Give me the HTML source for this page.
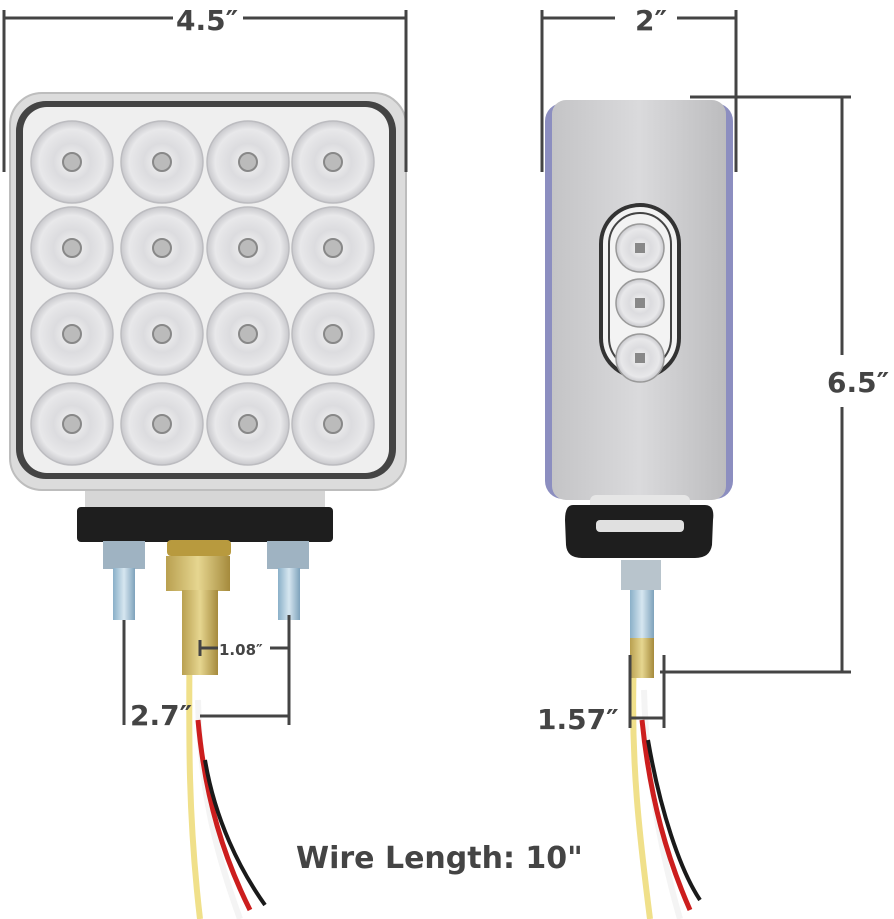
<!DOCTYPE html>
<html><head><meta charset="utf-8"><style>
html,body{margin:0;padding:0;background:#fff}
svg{display:block}
text{font-family:"DejaVu Sans","Liberation Sans",sans-serif;font-weight:bold;fill:#444}
</style></head><body>
<svg width="894" height="919" viewBox="0 0 894 919" xmlns="http://www.w3.org/2000/svg">
<defs>
<radialGradient id="led" cx="50%" cy="50%" r="50%">
<stop offset="0" stop-color="#f6f6f6"/><stop offset="0.45" stop-color="#dcdcdf"/><stop offset="0.8" stop-color="#e8e8ea"/><stop offset="1" stop-color="#c8c8cc"/>
</radialGradient>
<linearGradient id="side" x1="0" x2="1" y1="0" y2="0">
<stop offset="0" stop-color="#c4c4c6"/><stop offset="0.5" stop-color="#dadadc"/><stop offset="1" stop-color="#bcbcbe"/>
</linearGradient>
<linearGradient id="brass" x1="0" x2="1"><stop offset="0" stop-color="#b9a050"/><stop offset="0.5" stop-color="#e6d690"/><stop offset="1" stop-color="#a58a3c"/></linearGradient>
<linearGradient id="zinc" x1="0" x2="1"><stop offset="0" stop-color="#8ab0c8"/><stop offset="0.5" stop-color="#d6e6f0"/><stop offset="1" stop-color="#7ea2bb"/></linearGradient>
</defs>

<!-- FRONT LIGHT -->
<path d="M190 560 C190 700 185 790 200 919" stroke="#f0e08a" stroke-width="6" fill="none"/>
<path d="M198 700 C200 790 215 850 240 919" stroke="#f4f4f4" stroke-width="6" fill="none"/>
<path d="M198 720 C205 800 225 860 250 910" stroke="#cc1e1e" stroke-width="5" fill="none"/>
<path d="M205 760 C215 820 240 870 265 905" stroke="#1a1a1a" stroke-width="4" fill="none"/>

<rect x="85" y="488" width="240" height="22" fill="#d6d6d6"/>
<rect x="10" y="93" width="396" height="397" rx="32" fill="#dcdcdc" stroke="#bdbdbd" stroke-width="2"/>
<rect x="16" y="101" width="380" height="378" rx="30" fill="#444"/>
<rect x="23" y="107" width="366" height="366" rx="24" fill="#efefef"/>
<g>
<g fill="url(#led)" stroke="#bcbcc0" stroke-width="1.5">
<circle cx="72" cy="162" r="41"/><circle cx="162" cy="162" r="41"/><circle cx="248" cy="162" r="41"/><circle cx="333" cy="162" r="41"/>
<circle cx="72" cy="248" r="41"/><circle cx="162" cy="248" r="41"/><circle cx="248" cy="248" r="41"/><circle cx="333" cy="248" r="41"/>
<circle cx="72" cy="334" r="41"/><circle cx="162" cy="334" r="41"/><circle cx="248" cy="334" r="41"/><circle cx="333" cy="334" r="41"/>
<circle cx="72" cy="424" r="41"/><circle cx="162" cy="424" r="41"/><circle cx="248" cy="424" r="41"/><circle cx="333" cy="424" r="41"/>
</g>
<g fill="#bbb" stroke="#888" stroke-width="2">
<circle cx="72" cy="162" r="9"/><circle cx="162" cy="162" r="9"/><circle cx="248" cy="162" r="9"/><circle cx="333" cy="162" r="9"/>
<circle cx="72" cy="248" r="9"/><circle cx="162" cy="248" r="9"/><circle cx="248" cy="248" r="9"/><circle cx="333" cy="248" r="9"/>
<circle cx="72" cy="334" r="9"/><circle cx="162" cy="334" r="9"/><circle cx="248" cy="334" r="9"/><circle cx="333" cy="334" r="9"/>
<circle cx="72" cy="424" r="9"/><circle cx="162" cy="424" r="9"/><circle cx="248" cy="424" r="9"/><circle cx="333" cy="424" r="9"/>
</g>
</g>
<rect x="77" y="507" width="256" height="35" rx="4" fill="#1e1e1e"/>
<!-- studs -->
<rect x="103" y="541" width="42" height="28" fill="#9fb3c2"/><rect x="113" y="568" width="22" height="52" fill="url(#zinc)"/>
<rect x="267" y="541" width="42" height="28" fill="#9fb3c2"/><rect x="278" y="568" width="22" height="52" fill="url(#zinc)"/>
<rect x="167" y="540" width="64" height="16" rx="4" fill="#b89a3e"/>
<rect x="166" y="556" width="64" height="35" fill="url(#brass)"/>
<rect x="182" y="590" width="36" height="85" fill="url(#brass)"/>

<!-- front dimension lines -->
<g stroke="#444" stroke-width="3" fill="none">
<line x1="4" y1="10" x2="4" y2="172"/><line x1="406" y1="10" x2="406" y2="172"/>
<line x1="4" y1="18" x2="173" y2="18"/><line x1="243" y1="18" x2="406" y2="18"/>
<line x1="124" y1="620" x2="124" y2="725"/><line x1="289" y1="615" x2="289" y2="725"/>
<line x1="200" y1="716" x2="289" y2="716"/>
<line x1="200" y1="640" x2="200" y2="656"/><line x1="200" y1="648" x2="218" y2="648"/><line x1="270" y1="648" x2="289" y2="648"/>
</g>
<text x="176" y="30" font-size="28">4.5″</text>
<text x="130" y="725" font-size="28">2.7″</text>
<text x="219" y="655" font-size="15">1.08″</text>

<!-- SIDE LIGHT -->
<path d="M634 660 C630 760 640 840 650 919" stroke="#f0e08a" stroke-width="6" fill="none"/>
<path d="M644 690 C646 770 660 850 680 919" stroke="#f4f4f4" stroke-width="6" fill="none"/>
<path d="M642 720 C650 800 668 860 690 910" stroke="#cc1e1e" stroke-width="5" fill="none"/>
<path d="M648 740 C660 810 680 870 700 900" stroke="#1a1a1a" stroke-width="4" fill="none"/>

<rect x="545" y="103" width="188" height="396" rx="18" fill="#8c8ec0"/>
<rect x="552" y="100" width="174" height="400" rx="14" fill="url(#side)"/>
<rect x="590" y="495" width="100" height="30" rx="6" fill="#e6e6e6"/>
<path d="M573 505 L705 505 Q715 505 713 520 L712 545 Q710 558 695 558 L582 558 Q567 558 566 545 L565 520 Q565 505 573 505 Z" fill="#1e1e1e"/>
<rect x="596" y="520" width="88" height="12" rx="4" fill="#e0e0e0"/>
<rect x="621" y="560" width="40" height="30" fill="#b8c4cc"/>
<rect x="630" y="590" width="24" height="60" fill="url(#zinc)"/>
<rect x="630" y="638" width="24" height="40" fill="url(#brass)"/>
<rect x="601" y="205" width="78" height="172" rx="39" fill="#f3f3f3" stroke="#333" stroke-width="4"/>
<rect x="609" y="213" width="62" height="156" rx="31" fill="none" stroke="#444" stroke-width="2"/>
<g fill="url(#led)" stroke="#999" stroke-width="1.5">
<circle cx="640" cy="248" r="24"/><circle cx="640" cy="303" r="24"/><circle cx="640" cy="358" r="24"/>
</g>
<g fill="#888"><rect x="635" y="243" width="10" height="10"/><rect x="635" y="298" width="10" height="10"/><rect x="635" y="353" width="10" height="10"/></g>

<!-- side dimensions -->
<g stroke="#444" stroke-width="3" fill="none">
<line x1="542" y1="10" x2="542" y2="172"/><line x1="736" y1="10" x2="736" y2="172"/>
<line x1="542" y1="18" x2="615" y2="18"/><line x1="677" y1="18" x2="736" y2="18"/>
<line x1="690" y1="97" x2="851" y2="97"/>
<line x1="842" y1="97" x2="842" y2="355"/><line x1="842" y1="407" x2="842" y2="672"/>
<line x1="660" y1="672" x2="851" y2="672"/>
<line x1="630" y1="655" x2="630" y2="728"/><line x1="664" y1="655" x2="664" y2="728"/>
<line x1="630" y1="718" x2="664" y2="718"/>
</g>
<text x="635" y="30" font-size="28">2″</text>
<text x="827" y="392" font-size="28">6.5″</text>
<text x="537" y="729" font-size="28">1.57″</text>

<text x="296" y="868" font-size="30">Wire Length: 10"</text>
</svg>
</body></html>
